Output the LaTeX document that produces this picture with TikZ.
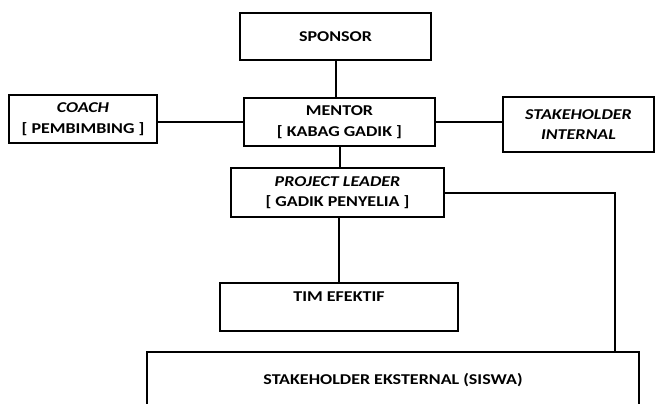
\documentclass[tikz,border=0pt]{standalone}
\usepackage{fontspec}
\setmainfont{Carlito}[FakeStretch=1.2]
\usetikzlibrary{positioning}

\tikzset{
    orgbox/.style={draw, line width=2pt, align=center,
        font=\fontsize{15}{20.5}\selectfont\bfseries, inner sep=0pt},
    link/.style={line width=2pt}
}

\begin{document}
\begin{tikzpicture}[x=1pt, y=-1pt]

    % page frame
    \useasboundingbox (0, 0) rectangle (657, 404);

    % boxes
    \node[orgbox, minimum width=191, minimum height=47] (sponsor) at (335.5, 36.5) {SPONSOR};
    \node[orgbox, minimum width=191, minimum height=48] (mentor) at (339.5, 122) {MENTOR\\{[} KABAG GADIK {]}};
    \node[orgbox, minimum width=148, minimum height=48] (coach) at (83, 119) {\textit{COACH}\\{[} PEMBIMBING {]}};
    \node[orgbox, minimum width=151, minimum height=55] (internal) at (578.5, 124.5) {\textit{STAKEHOLDER}\\\textit{INTERNAL}};
    \node[orgbox, minimum width=213, minimum height=49] (leader) at (337.5, 192.5) {\textit{PROJECT LEADER}\\{[} GADIK PENYELIA {]}};
    \node[orgbox, minimum width=238, minimum height=48, text depth=20pt] (tim) at (339, 307) {TIM EFEKTIF};
    \node[orgbox, minimum width=492, minimum height=56] (eksternal) at (393, 380) {STAKEHOLDER EKSTERNAL (SISWA)};

    \coordinate (bend) at (615, 352);

    % connectors
    \draw[link] (sponsor.south) -- (sponsor.south |- mentor.north);
    \draw[link] (mentor.west) -- (mentor.west -| coach.east);
    \draw[link] (mentor.east) -- (mentor.east -| internal.west);
    \draw[link] (mentor.south) -- (mentor.south |- leader.north);
    \draw[link] (leader.south -| tim.north) -- (tim.north);
    \draw[link] (leader.east) -| (bend);

\end{tikzpicture}
\end{document}
